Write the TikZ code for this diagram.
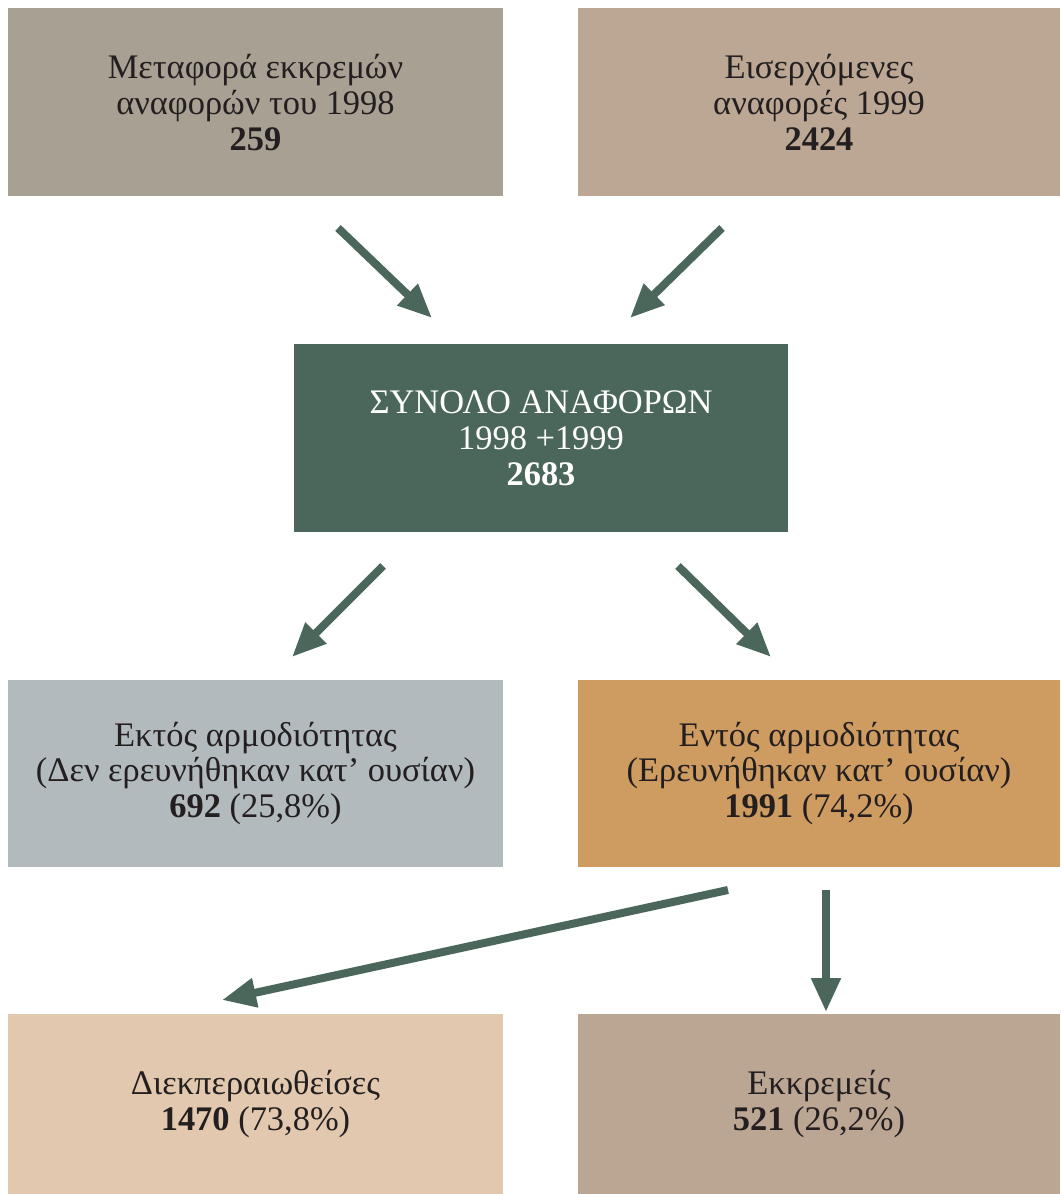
\documentclass[tikz,border=0pt]{standalone}
\usepackage{fontspec}
\setmainfont{Liberation Serif}
\usetikzlibrary{arrows.meta,positioning,calc}
\definecolor{StoneGrey}{RGB}{168,160,146}
\definecolor{SandBrown}{RGB}{187,167,148}
\definecolor{DarkSage}{RGB}{75,103,91}
\definecolor{CoolGrey}{RGB}{179,186,189}
\definecolor{Ochre}{RGB}{206,155,96}
\definecolor{Peach}{RGB}{226,200,174}
\definecolor{Taupe}{RGB}{187,165,147}
\definecolor{InkText}{RGB}{35,31,32}
\tikzset{
  cbox/.style={draw=none,minimum height=4.7cm,inner sep=0pt,
               font=\fontsize{24.5}{25.5}\selectfont,align=center,
               text=InkText},
  gbox/.style={cbox,fill=StoneGrey,minimum width=12.375cm},
  sbox/.style={cbox,fill=SandBrown,minimum width=12.05cm},
  tbox/.style={cbox,fill=DarkSage,minimum width=12.35cm,text=white},
  arr/.style={-{Triangle[length=0.85cm,width=0.7cm]},DarkSage,line width=0.2cm},
}
\begin{document}
\begin{tikzpicture}
  \useasboundingbox (0,0) rectangle (26.5,-29.85);
  % top row
  \node[gbox] (prev) at (6.3875,-2.5625) {Μεταφορά εκκρεμών\\αναφορών του 1998\\\textbf{259}};
  \node[sbox] (new) at (20.475,-2.5625) {Εισερχόμενες\\αναφορές 1999\\\textbf{2424}};
  % total
  \node[tbox] (total) at (13.525,-10.95) {ΣΥΝΟΛΟ ΑΝΑΦΟΡΩΝ\\1998 +1999\\\textbf{2683}};
  % competence
  \node[gbox,fill=CoolGrey,minimum height=4.675cm] (out) at (6.3875,-19.3375) {Εκτός αρμοδιότητας\\(Δεν ερευνήθηκαν κατ’ ουσίαν)\\\textbf{692} (25,8\%)};
  \node[sbox,fill=Ochre,minimum height=4.675cm] (in) at (20.475,-19.3375) {Εντός αρμοδιότητας\\(Ερευνήθηκαν κατ’ ουσίαν)\\\textbf{1991} (74,2\%)};
  % outcome
  \node[gbox,fill=Peach,minimum height=4.5cm] (done) at (6.3875,-27.6) {Διεκπεραιωθείσες\\\textbf{1470} (73,8\%)};
  \node[sbox,fill=Taupe,minimum height=4.5cm] (open) at (20.475,-27.6) {Εκκρεμείς\\\textbf{521} (26,2\%)};
  % arrow ends
  \coordinate (p1) at (8.45,-5.7);    \coordinate (q1) at (10.8,-7.95);
  \coordinate (p2) at (18.05,-5.7);   \coordinate (q2) at (15.75,-7.95);
  \coordinate (p3) at (9.575,-14.15); \coordinate (q3) at (7.3,-16.425);
  \coordinate (p4) at (16.95,-14.15); \coordinate (q4) at (19.275,-16.425);
  \coordinate (p5) at (18.2,-22.25);  \coordinate (q5) at (5.55,-25);
  \coordinate (p6) at (20.65,-22.25); \coordinate (q6) at (20.65,-25.3);
  \draw[arr] (p1)--(q1); \draw[arr] (p2)--(q2); \draw[arr] (p3)--(q3);
  \draw[arr] (p4)--(q4); \draw[arr] (p5)--(q5); \draw[arr] (p6)--(q6);
\end{tikzpicture}
\end{document}
